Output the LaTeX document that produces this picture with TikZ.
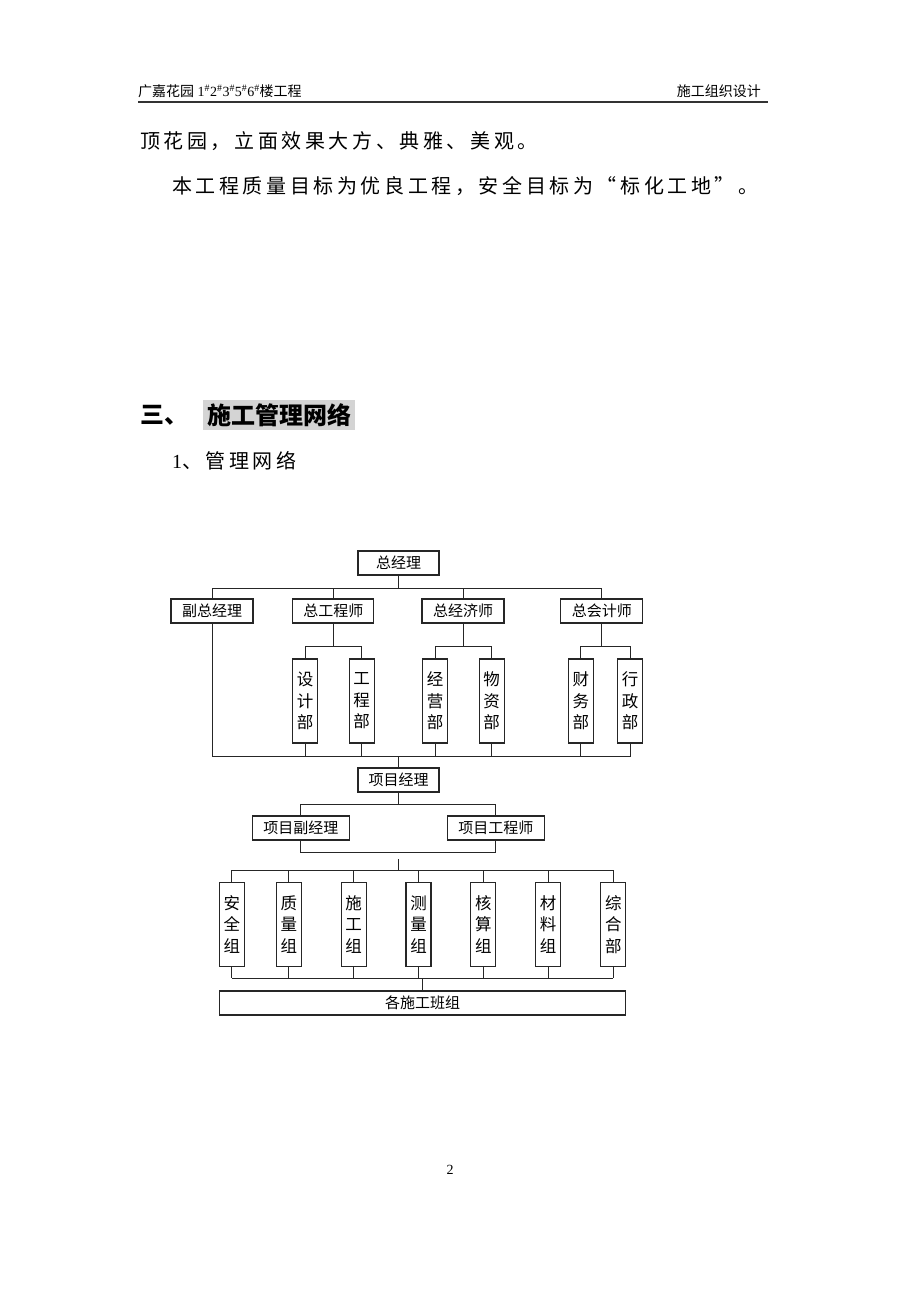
\documentclass[tikz,border=0pt]{standalone}
\usepackage{fontspec}
\setmainfont{Liberation Serif}
\newfontfamily\cjk{Noto Sans CJK SC}
\newfontfamily\cjkwide[LetterSpace=18]{Noto Sans CJK SC}
\usetikzlibrary{positioning}

\tikzset{
	hbox/.style={draw, line width=1.3pt, black!85, text=black, inner sep=0pt, minimum height=24pt, font=\cjk\fontsize{15}{15}\selectfont},
	vbox/.style={draw, line width=1.3pt, black!85, text=black, inner sep=0pt, minimum width=25pt, minimum height=84pt, align=center, font=\cjk\fontsize{16.5}{21.5}\selectfont},
	link/.style={line width=1pt, black!85},
	bodytext/.style={anchor=west, inner sep=0pt, font=\cjkwide\fontsize{20}{20}\selectfont}
}

\begin{document}
\begin{tikzpicture}[x=1pt, y=-1pt]
		\useasboundingbox (0,0) rectangle (920,1302);
		
		% page head
		\node[anchor=west, inner sep=0pt, font=\fontsize{14}{14}\selectfont] (headl) at (138,91) {{\cjk 广嘉花园} 1\textsuperscript{\#}2\textsuperscript{\#}3\textsuperscript{\#}5\textsuperscript{\#}6\textsuperscript{\#}{\cjk 楼工程}};
		\node[anchor=east, inner sep=0pt, font=\cjk\fontsize{14}{14}\selectfont] (headr) at (761,91) {施工组织设计};
		\draw[line width=2pt, black!80] (138,102) -- (768,102);
		
		\node[bodytext] (line1) at (140,141) {顶花园，立面效果大方、典雅、美观。};
		\node[bodytext] (line2) at (172,186) {本工程质量目标为优良工程，安全目标为“标化工地”。};
		
		\node[anchor=west, inner sep=0pt, font=\cjk\bfseries\fontsize{24}{24}\selectfont] (sec) at (140,415) {三、};
		\node[fill=black!17, inner sep=0pt, minimum width=152pt, minimum height=30pt, font=\cjk\bfseries\fontsize{24}{24}\selectfont] (sectitle) at (279,415) {施工管理网络};
		\node[bodytext] (sub) at (172,461) {\fontspec{Liberation Serif}1\cjkwide、管理网络};
		
		% company level
		\node[hbox, minimum width=81pt] (zjl) at (398.5,563) {总经理};
		\node[hbox, minimum width=82pt] (fz) at (212,611) {副总经理};
		\node[hbox, minimum width=81pt] (zg) at (333.3,611) {总工程师};
		\node[hbox, minimum width=82pt] (zj) at (463,611) {总经济师};
		\node[hbox, minimum width=82pt] (zk) at (601.8,611) {总会计师};
		
		\node[vbox] (sj) at (305,701) {设\\计\\部};
		\node[vbox] (gc) at (361.7,701) {工\\程\\部};
		\node[vbox] (jy) at (435,701) {经\\营\\部};
		\node[vbox] (wz) at (491.7,701) {物\\资\\部};
		\node[vbox] (cw) at (580.8,701) {财\\务\\部};
		\node[vbox] (xz) at (630,701) {行\\政\\部};
		
		\coordinate (b1) at (398.5,588);
		\draw[link] (zjl.south) -- (b1);
		\draw[link] (fz.north) -- (fz.north |- b1) -- (zk.north |- b1) -- (zk.north);
		\foreach \n in {zg, zj} {
			\draw[link] (\n.north) -- (\n.north |- b1);
		}
		\foreach \p/\a/\b in {zg/sj/gc, zj/jy/wz, zk/cw/xz} {
			\draw[link] (\a.north) -- ++(0,-12) coordinate (\a-t) -| (\b.north);
			\draw[link] (\p.south) -- (\p.south |- \a-t);
		}
		
		% project level
		\coordinate (b2) at (398.5,756);
		\node[hbox, minimum width=81pt] (xmjl) at (398.5,780) {项目经理};
		\draw[link] (fz.south) |- (b2 -| xz.south) -- (xz.south);
		\foreach \n in {sj, gc, jy, wz, cw} {
			\draw[link] (\n.south) -- (\n.south |- b2);
		}
		\draw[link] (b2) -- (xmjl.north);
		
		\coordinate (b3) at (398.5,804);
		\coordinate (b4) at (398.5,852);
		\node[hbox, minimum width=97pt] (xfj) at (300.8,828) {项目副经理};
		\node[hbox, minimum width=97pt] (xgc) at (495.8,828) {项目工程师};
		\draw[link] (xmjl.south) -- (b3);
		\draw[link] (xfj.north) |- (b3) -| (xgc.north);
		\draw[link] (xfj.south) |- (b4) -| (xgc.south);
		
		% groups
		\coordinate (b5) at (398.5,859);
		\coordinate (b6) at (398.5,870);
		\coordinate (b7) at (422.5,978);
		\foreach \x/\t [count=\i] in {231.8/安\\全\\组, 288.8/质\\量\\组, 353.7/施\\工\\组, 418.5/测\\量\\组, 483.3/核\\算\\组, 548.2/材\\料\\组, 613.3/综\\合\\部} {
			\node[vbox] (g\i) at (\x,924.5) {\t};
			\draw[link] (g\i.north) -- (g\i.north |- b6);
			\draw[link] (g\i.south) -- (g\i.south |- b7);
		}
		\draw[link] (b5) -- (b6);
		\draw[link] (g1.north |- b6) -- (g7.north |- b6);
		\draw[link] (g1.south |- b7) -- (g7.south |- b7);
		\node[hbox, minimum width=406pt] (bz) at (422.5,1003) {各施工班组};
		\draw[link] (b7) -- (bz.north);
		
		\node[inner sep=0pt, font=\fontsize{14}{14}\selectfont] (pg) at (450,1170) {2};
	\end{tikzpicture}
\end{document}
